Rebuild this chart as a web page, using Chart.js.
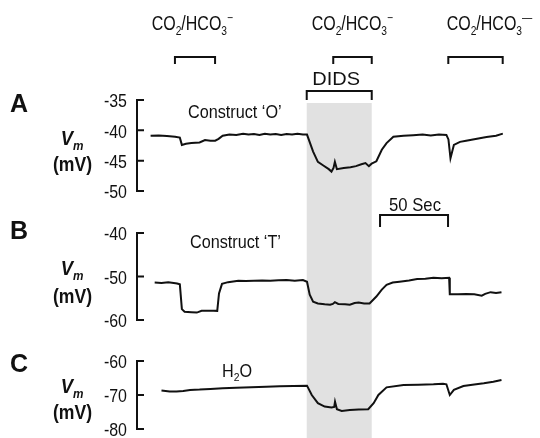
<!DOCTYPE html>
<html><head><meta charset="utf-8">
<script src="https://cdn.jsdelivr.net/npm/chart.js@4.4.0/dist/chart.umd.min.js"></script>
<style>html,body{margin:0;padding:0;background:#fff;overflow:hidden}canvas{display:block}</style>
</head><body>
<canvas id="c" width="540" height="438"></canvas>
<script>
// ---------- data (time in s, membrane potential in mV) ----------
const timeA = [10,16,22,28,31.5,33,36,40,46,50,54,57.5,60,63,68,73,78,82,86,90,94,98,102,106,110,114,118,122,125,129.5,133,137,141,143,144.5,145.5,147,152,157,161,165,168,170.5,172.5,176,180,183.5,188.5,196,203,210,216,222,227.5,229,230.5,233,237.5,242,247,252,257,264,269];
const vmA = [-40.9,-40.85,-40.95,-41.05,-41.2,-42.4,-42.2,-42.1,-42.0,-41.6,-41.7,-41.7,-41.4,-40.9,-40.7,-40.75,-40.55,-40.7,-40.6,-40.75,-40.55,-40.7,-40.6,-40.75,-40.6,-40.7,-40.55,-40.7,-40.7,-43.5,-45.2,-45.8,-46.4,-46.8,-46.2,-45.2,-46.4,-46.2,-46.1,-45.9,-45.6,-45.4,-45.9,-45.5,-45.1,-43.2,-42.1,-41.05,-40.9,-40.8,-40.7,-40.85,-40.7,-40.75,-41.5,-44.6,-42.4,-41.9,-41.7,-41.5,-41.3,-41.1,-40.9,-40.55];

const timeB = [13,18,23,27,29.5,31.5,33,35,40,44,47.5,52,56,59,60.3,62.5,67,74.5,80,86,92,98,104,110,116,122,125,127,129.5,133,138,142,144,145.5,148,153,156.5,160,163,167,171,176,180,183.5,188,193,200,206,212,218,224,229.5,230,236,242,248,253.5,256,260,264,268];
const vmB = [-51.4,-51.5,-51.35,-51.5,-51.6,-51.8,-57.5,-58.1,-58.2,-58.3,-57.9,-57.9,-57.85,-57.9,-53.9,-51.7,-51.3,-51.0,-51.05,-50.95,-50.9,-51.0,-50.85,-50.8,-50.95,-50.8,-51.2,-54.2,-55.8,-56.2,-56.4,-56.5,-56.3,-55.9,-56.3,-56.4,-56.5,-56.1,-56.0,-56.2,-56.2,-54.6,-53.0,-51.9,-51.4,-51.2,-50.9,-50.6,-50.5,-50.3,-50.4,-50.3,-54.1,-54.1,-54.05,-54.1,-54.4,-54.0,-53.6,-53.8,-53.6];

const timeC = [18,24,29,34,39,46,54,63,73,84,95,105,115,125,128.5,133,138,143,145,145.6,147,150.5,156.5,163,170,174,177.5,183.5,196,207,218,225,227.5,230,233,240,248,255,262,268];
const vmC = [-68.7,-69.0,-69.0,-68.8,-68.5,-68.4,-68.2,-68.0,-67.85,-67.7,-67.55,-67.4,-67.35,-67.25,-70.0,-72.4,-73.4,-73.7,-73.5,-72.0,-74.2,-74.7,-74.4,-74.3,-74.2,-72.4,-70.0,-67.75,-67.05,-66.95,-66.85,-66.7,-66.85,-70.0,-68.5,-67.35,-66.9,-66.55,-66.1,-65.6];

const ticksA = [-35,-40,-45,-50];
const ticksB = [-40,-50,-60];
const ticksC = [-60,-70,-80];

// application periods (s)
const co2Periods = [[27.9,57.4],[144.3,172.6],[228.9,268.9]];
const didsPeriod = [124.8,172.6];
const scaleBarPeriod = [178.7,228.7];
const scaleBarLabel = '50 Sec';

// ---------- layout ----------
const W = 540, H = 438, AXIS_X = 137, PX_PER_S = 1.36, TICK = 7;
const FONT = '"Liberation Sans", Arial, Helvetica, sans-serif';
const INK = '#111';

const panels = [
  {id:'yA', ticks:ticksA, topPx:100, botPx:191, letter:'A', letterY:112, vmY:145, mvY:171, title:[{t:'Construct \u2018O\u2019'}], titleX:188, titleY:118},
  {id:'yB', ticks:ticksB, topPx:233, botPx:320, letter:'B', letterY:239, vmY:275, mvY:303, title:[{t:'Construct \u2018T\u2019'}], titleX:190, titleY:248},
  {id:'yC', ticks:ticksC, topPx:361, botPx:429, letter:'C', letterY:372, vmY:393, mvY:419, title:[{t:'H'},{t:'2',sub:1},{t:'O'}], titleX:222, titleY:377}
];
function yRange(p){
  const a = p.ticks[0], b = p.ticks[p.ticks.length-1];
  const per = (a-b)/(p.botPx-p.topPx);
  return {min: b - (H-p.botPx)*per, max: a + p.topPx*per};
}

function setFont(ctx, size, weight, style){ ctx.font = `${style||''} ${weight||''} ${size}px ${FONT}`; }
function drawRich(ctx, segs, x, y, o){
  o = o||{};
  const size = o.size||18, sx = o.sx||0.9;
  const parts = segs.map(s=>{
    const sz = (s.sub||s.sup) ? size*0.64 : size;
    setFont(ctx, sz, s.weight||o.weight, s.style||o.style);
    return {s, sz, w: ctx.measureText(s.t).width*sx, dy: s.sub ? size*0.24 : (s.sup ? -size*0.4 : 0)};
  });
  const total = parts.reduce((a,p)=>a+p.w,0);
  let cx = x;
  if (o.align==='center') cx = x-total/2; else if (o.align==='right') cx = x-total;
  ctx.save();
  ctx.fillStyle = INK; ctx.textAlign='left'; ctx.textBaseline = o.baseline||'alphabetic';
  parts.forEach(p=>{
    setFont(ctx, p.sz, p.s.weight||o.weight, p.s.style||o.style);
    ctx.save(); ctx.translate(cx, y+p.dy); ctx.scale(sx,1); ctx.fillText(p.s.t,0,0); ctx.restore();
    cx += p.w;
  });
  ctx.restore();
}
function bracket(ctx, xs, period, yLine, yEnd){
  const x1 = xs.getPixelForValue(period[0]), x2 = xs.getPixelForValue(period[1]);
  ctx.beginPath(); ctx.moveTo(x1,yEnd); ctx.lineTo(x1,yLine); ctx.lineTo(x2,yLine); ctx.lineTo(x2,yEnd); ctx.stroke();
}

const figPlugin = {
  id:'fig',
  beforeDatasetsDraw(chart){
    const ctx = chart.ctx, xs = chart.scales.x;
    const x1 = xs.getPixelForValue(didsPeriod[0]), x2 = xs.getPixelForValue(didsPeriod[1]);
    ctx.save(); ctx.fillStyle = '#e1e1e1'; ctx.fillRect(x1, 103, x2-x1, H-103); ctx.restore();
  },
  afterDatasetsDraw(chart){
    const ctx = chart.ctx, xs = chart.scales.x;
    const x0 = xs.getPixelForValue(0);
    ctx.save();
    ctx.strokeStyle = INK; ctx.lineWidth = 2; ctx.lineJoin='miter'; ctx.lineCap='butt';
    panels.forEach(p=>{
      const ys = chart.scales[p.id];
      const py = p.ticks.map(v=>ys.getPixelForValue(v));
      ctx.beginPath();
      ctx.moveTo(x0+TICK, py[0]); ctx.lineTo(x0, py[0]); ctx.lineTo(x0, py[py.length-1]); ctx.lineTo(x0+TICK, py[py.length-1]);
      for (let i=1;i<py.length-1;i++){ ctx.moveTo(x0-1, py[i]); ctx.lineTo(x0+TICK, py[i]); }
      ctx.stroke();
      p.ticks.forEach((v,i)=>drawRich(ctx,[{t:String(v)}], x0-10, py[i]+2, {size:19, sx:0.84, align:'right', baseline:'middle'}));
      drawRich(ctx,[{t:p.letter}], 10, p.letterY, {size:25, weight:'bold', sx:1});
      drawRich(ctx,[{t:'V'},{t:'m',sub:1}], 72, p.vmY, {size:20, weight:'bold', style:'italic', sx:0.92, align:'center'});
      drawRich(ctx,[{t:'(mV)'}], 72.5, p.mvY, {size:20, weight:'bold', sx:0.88, align:'center'});
      drawRich(ctx, p.title, p.titleX, p.titleY, {size:18, sx:0.9});
    });
    // brackets
    co2Periods.forEach(per=>bracket(ctx, xs, per, 57, 64));
    bracket(ctx, xs, didsPeriod, 91, 100);
    bracket(ctx, xs, scaleBarPeriod, 215, 227);
    const co2 = [{t:'CO'},{t:'2',sub:1},{t:'/HCO'},{t:'3',sub:1},{t:'\u2212',sup:1}];
    const co2b = [{t:'CO'},{t:'2',sub:1},{t:'/HCO'},{t:'3',sub:1},{t:'\u2014',sup:1}];
    drawRich(ctx, co2, 151.7, 30, {size:19.5, sx:0.82});
    drawRich(ctx, co2, 311.7, 30, {size:19.5, sx:0.82});
    drawRich(ctx, co2b, 446.7, 30, {size:19.5, sx:0.82});
    const xd = (xs.getPixelForValue(didsPeriod[0])+xs.getPixelForValue(didsPeriod[1]))/2;
    drawRich(ctx, [{t:'DIDS'}], xd-3, 85, {size:18.5, sx:1.08, align:'center'});
    const xb = (xs.getPixelForValue(scaleBarPeriod[0])+xs.getPixelForValue(scaleBarPeriod[1]))/2;
    drawRich(ctx, [{t:scaleBarLabel}], xb+1, 211, {size:18.5, sx:0.9, align:'center'});
    ctx.restore();
  }
};

const yScales = {};
panels.forEach(p=>{ const r = yRange(p); yScales[p.id] = {type:'linear', display:false, min:r.min, max:r.max}; });

new Chart(document.getElementById('c').getContext('2d'), {
  type:'line',
  data:{datasets:[
    {label:'A', data: timeA.map((t,i)=>({x:t,y:vmA[i]})), yAxisID:'yA', borderColor:INK},
    {label:'B', data: timeB.map((t,i)=>({x:t,y:vmB[i]})), yAxisID:'yB', borderColor:INK},
    {label:'C', data: timeC.map((t,i)=>({x:t,y:vmC[i]})), yAxisID:'yC', borderColor:INK}
  ]},
  options:{
    responsive:false, animation:false, devicePixelRatio:1,
    layout:{padding:{left:AXIS_X, right:0, top:0, bottom:0}},
    plugins:{legend:{display:false}, tooltip:{enabled:false}},
    elements:{point:{radius:0}, line:{borderWidth:2, tension:0, fill:false}},
    scales:Object.assign({x:{type:'linear', display:false, min:0, max:(W-AXIS_X)/PX_PER_S}}, yScales)
  },
  plugins:[figPlugin]
});
</script>
</body></html>
